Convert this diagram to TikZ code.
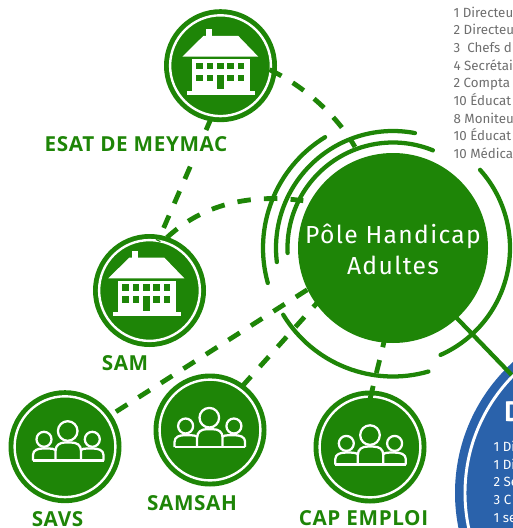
\documentclass[tikz,border=0pt]{standalone}
\usepackage{fontspec}
\setmainfont{PT Sans}
\newfontfamily\listfont{Fira Sans}
\newfontfamily\labelfont[LetterSpace=3]{Open Sans}
\newfontfamily\polefont[LetterSpace=5.4]{Fira Sans}
\definecolor{grn}{HTML}{1E8507}
\definecolor{blu}{HTML}{2A62AB}
\definecolor{txt}{HTML}{6E6E6E}
\tikzset{
  x=0.75pt,y=-0.75pt,
  disc/.style={circle,fill=grn,draw=none,minimum size=84.75pt,inner sep=0pt},
  ringline/.style={draw=white,line width=1.8pt},
  arcline/.style={draw=grn,line width=3.2pt,line cap=round},
  dashline/.style={draw=grn,line width=3.6pt,dash pattern=on 10.1pt off 9.9pt},
  solidlink/.style={draw=grn,line width=3.2pt},
  biglabel/.style={text=grn,font=\labelfont\fontsize{15.5}{17}\selectfont\bfseries,inner sep=0pt,anchor=base},
  listline/.style={text=txt,font=\listfont\fontsize{10}{12}\selectfont,anchor=base west,inner sep=0pt},
  blueline/.style={text=white,font=\listfont\fontsize{10}{12}\selectfont,anchor=base west,inner sep=0pt},
  peopleline/.style={draw=white,line width=1.7pt,line join=round},
}
\newcommand{\housepic}[2]{%
 \begin{scope}[shift={(#1,#2)}]
  \fill[white] (205.7,29.3) rectangle (211.7,40);
  \fill[white] (182.3,56.7) -- (203.3,36) -- (238.3,36) -- (258.3,56.7) -- cycle;
  \fill[white] (192.3,59.3) rectangle (250,91);
  \fill[white] (186.7,90.7) rectangle (255,94.7);
  \foreach \wx in {196,206.7,217,227.3,237.7}{
    \fill[grn] (\wx,62.7) rectangle ++(6.7,6.6);
  }
  \foreach \wx in {196,206.7,227.3,237.7}{
    \fill[grn] (\wx,74.7) rectangle ++(6.7,6.6);
  }
  \fill[grn] (217,74.7) rectangle (223.7,89);
 \end{scope}}
\newcommand{\peoplepic}[2]{%
 \begin{scope}[shift={(#1,#2)}]
  \draw[peopleline] (67.7,431) circle (9.8);
  \draw[peopleline] (44,439.3) circle (7.5);
  \draw[peopleline] (92.3,439.3) circle (7.5);
  \draw[peopleline] (33,460.5) -- (33,455) .. controls (33,450) and (38,448.5) .. (43,448.5) -- (49,448.5) .. controls (52,448.5) and (54,449) .. (55.5,450);
  \draw[peopleline] (103.5,460.5) -- (103.5,455) .. controls (103.5,450) and (98,448.5) .. (93,448.5) -- (87,448.5) .. controls (84,448.5) and (82,449) .. (81,450);
  \draw[peopleline] (55.5,460.5) -- (55.5,451) .. controls (55.5,445) and (60,442.5) .. (65,442.5) -- (71,442.5) .. controls (77,442.5) and (81,445) .. (81,451) -- (81,460.5);
  \draw[peopleline] (33,460.5) -- (103.5,460.5);
 \end{scope}}
\begin{document}
\begin{tikzpicture}
\useasboundingbox (0,0) rectangle (513,528);
\clip (0,0) rectangle (513,528);
% blue circle
\node[circle,fill=blu,minimum size=265.5pt,inner sep=0pt] (blue) at (632,493) {};
\draw[draw=white,line width=2.2pt] (blue) circle (167);
% green discs
\node[disc] (esat) at (220.5,65.7) {};
\node[disc] (sam) at (149.5,290.5) {};
\node[disc] (savs) at (65,446.7) {};
\node[disc] (samsah) at (210,430) {};
\node[disc] (cap) at (370,447) {};
\foreach \n in {esat,sam,savs,samsah,cap}{\draw[ringline] (\n) circle (50.4);}
\node[circle,fill=grn,minimum size=142.5pt,inner sep=0pt] (pole) at (393,248) {};
\node[text=white,align=center,inner sep=0pt,
  font=\polefont\fontsize{18.5}{23.8}\selectfont] (poletext) at (393,249.5) {Pôle Handicap\\Adultes};
% icons
\housepic{0}{0}
\housepic{-74}{221.6}
\peoplepic{0}{0}
\peoplepic{141.6}{-13.3}
\peoplepic{302.3}{4.1}
% connector ends
\coordinate (esatE) at (269.5,69.7);
\coordinate (poleE) at (355,147);
\coordinate (esatS) at (211.4,117.7);
\coordinate (samN) at (158,241);
\coordinate (samE) at (167,237.5);
\coordinate (poleW) at (303.3,200.7);
\coordinate (savsE) at (116,411.7);
\coordinate (poleSW) at (310,288);
\coordinate (samsahE) at (242,386.5);
\coordinate (poleSSW) at (317,303);
\coordinate (capN) at (370,399);
\coordinate (poleS) at (384.5,340);
\coordinate (poleSE) at (450,311);
\coordinate (blueNW) at (511.7,375);
% connectors
\draw[dashline] (esatE) .. controls (300,84) and (335,112) .. (poleE);
\draw[dashline,dash pattern=on 10.1pt off 29.9pt on 10.1pt off 9.9pt on 10.1pt off 9.9pt on 10.1pt off 9.9pt on 40pt off 1pt] (esatS) -- (samN);
\draw[dashline] (samE) .. controls (206.2,201.2) and (255.3,194.25) .. (poleW);
\draw[dashline] (savsE) -- (poleSW);
\draw[dashline] (samsahE) -- (poleSSW);
\draw[dashline] (capN) -- (poleS);
\draw[solidlink] (poleSE) -- (blueNW);
% arcs round the centre
\draw[arcline] (pole.center) ++(-41.9:117) arc (-41.9:66:117);
\draw[arcline] (pole.center) ++(148.7:128.5) arc (148.7:74:128.5);
\draw[arcline] (pole.center) ++(238.5:130) arc (238.5:164.4:130);
\draw[arcline] (pole.center) ++(280.8:117) arc (280.8:173.1:117);
\draw[arcline] (pole.center) ++(292.2:105.5) arc (292.2:177.3:105.5);
% labels
\node[biglabel] (l1) at (136,151.7) {ESAT DE MEYMAC};
\node[biglabel] (l2) at (125,370.7) {SAM};
\node[biglabel] (l3) at (57.5,526.7) {SAVS};
\node[biglabel] (l4) at (192,510.7) {SAMSAH};
\node[biglabel] (l5) at (363.5,525) {CAP EMPLOI};
% top list
\node[listline] (t1) at (453.3,17.3) {1 Directeu};
\node[listline] (t2) at (453.3,35) {2 Directeu};
\node[listline] (t3) at (453.3,52.3) {3\ \ Chefs d};
\node[listline] (t4) at (453.3,70) {4 Secrétai};
\node[listline] (t5) at (453.3,87.7) {2 Compta};
\node[listline] (t6) at (453.3,105.3) {10 Éducat};
\node[listline] (t7) at (453.3,123) {8 Moniteu};
\node[listline] (t8) at (453.3,140.7) {10 Éducat};
\node[listline] (t9) at (453.3,158.3) {10 Médica};
% blue text
\node[text=white,font=\fontsize{21}{24}\selectfont\bfseries,anchor=base west,inner sep=0pt] (b0) at (504,421.7) {D};
\node[blueline] (b1) at (493.3,451) {1 Di};
\node[blueline] (b2) at (493.3,469) {1 Di};
\node[blueline] (b3) at (493.3,486.7) {2 Se};
\node[blueline] (b4) at (493.3,504) {3 C};
\node[blueline] (b5) at (493.3,522.3) {1 se};
\end{tikzpicture}
\end{document}
